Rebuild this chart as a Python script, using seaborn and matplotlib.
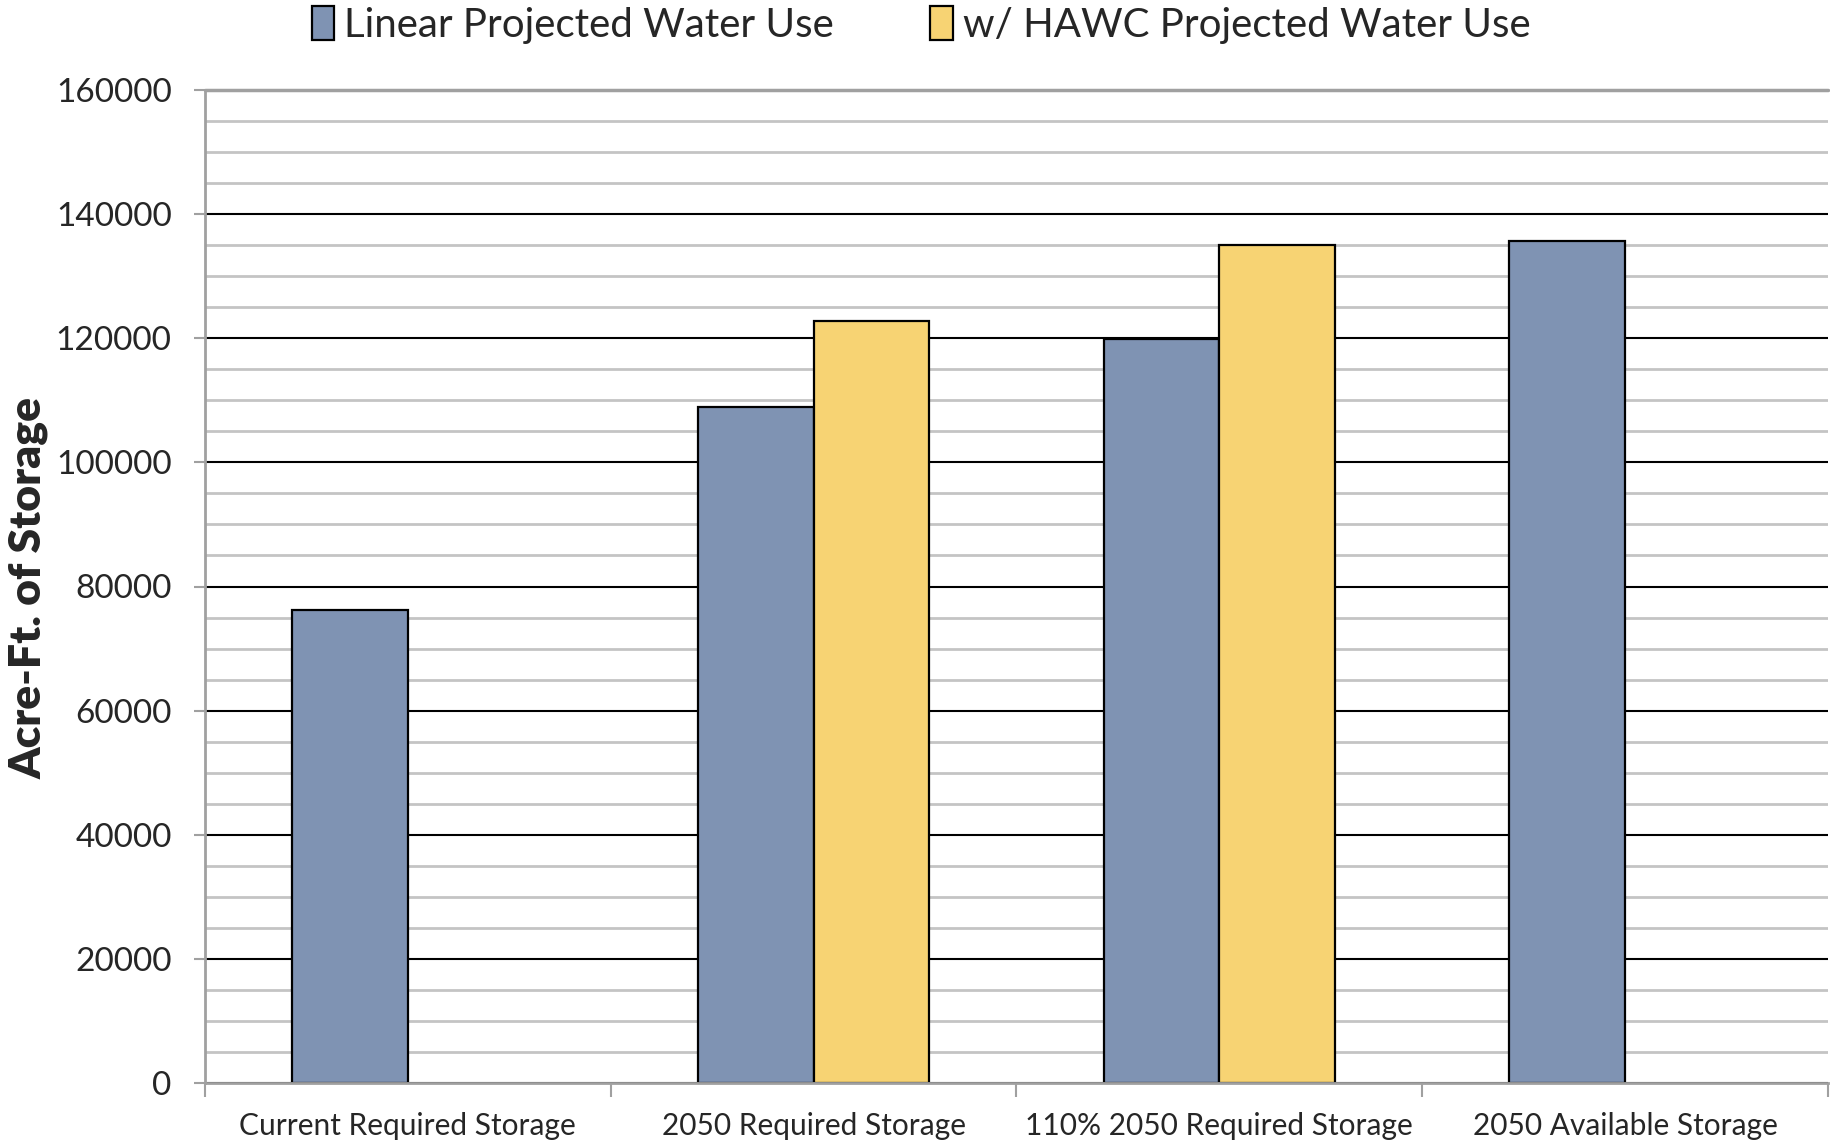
import matplotlib
matplotlib.use("Agg")
import matplotlib.pyplot as plt
import seaborn as sns
import pandas as pd
import numpy as np
from matplotlib.ticker import MultipleLocator
from matplotlib.patches import Patch

categories = ["Current Required Storage", "2050 Required Storage",
              "110% 2050 Required Storage", "2050 Available Storage"]
series_names = ["Linear Projected Water Use", "w/ HAWC Projected Water Use"]
linear_values = [76200, 109000, 119900, 135600]
hawc_values = [np.nan, 122700, 135000, np.nan]
y_ticks = [0, 20000, 40000, 60000, 80000, 100000, 120000, 140000, 160000]

colors = ["#7F93B3", "#F7D373"]

df = pd.DataFrame({
    "category": categories * 2,
    "series": [series_names[0]] * 4 + [series_names[1]] * 4,
    "value": linear_values + hawc_values,
})

sns.set_theme(style="white")
plt.rcParams["font.family"] = ["Lato", "DejaVu Sans"]

fig = plt.figure(figsize=(18.31, 11.42), dpi=100)
ax = fig.add_axes([205 / 1831, 1 - 1083 / 1142, (1828 - 205) / 1831, (1083 - 90) / 1142])

sns.barplot(data=df, x="category", y="value", hue="series", order=categories,
            hue_order=series_names, palette=colors, width=0.57, saturation=1,
            edgecolor="black", linewidth=1.6, ax=ax, legend=False, zorder=3)

ax.set_xlim(-0.5, 3.5)
ax.set_ylim(0, 160000)
ax.set_yticks(y_ticks)
ax.set_yticklabels([str(t) for t in y_ticks])
ax.yaxis.set_minor_locator(MultipleLocator(5000))
ax.grid(axis="y", which="minor", color="#C4C4C4", linewidth=2, zorder=0)
ax.grid(axis="y", which="major", color="black", linewidth=1.5, zorder=1)
ax.set_axisbelow(True)

ax.axhline(160000, color="#A0A0A0", linewidth=2.5, zorder=2, clip_on=False)

for s in ["top", "right"]:
    ax.spines[s].set_visible(False)
for s in ["left", "bottom"]:
    ax.spines[s].set_color("#A0A0A0")
    ax.spines[s].set_linewidth(2)
    ax.spines[s].set_zorder(4)

ax.tick_params(axis="y", which="major", direction="out", length=8, width=1.5,
               color="#A0A0A0", pad=16, labelsize=24, left=True)
ax.tick_params(axis="y", which="minor", length=0)
ax.set_xticks(range(4))
ax.set_xticklabels(categories)
ax.set_xticks([-0.5, 0.5, 1.5, 2.5, 3.5], minor=True)
ax.tick_params(axis="x", which="major", length=0, pad=21, labelsize=21.5)
ax.tick_params(axis="x", which="minor", direction="out", length=10, width=1.5,
               color="#A0A0A0", bottom=True)

ax.set_xlabel("")
ax.set_ylabel("")
fig.text(29 / 1831, 1 - 588 / 1142, "Acre-Ft. of Storage", rotation=90,
         ha="center", va="center", fontsize=32, fontweight="heavy")

handles = [Patch(facecolor=c, edgecolor="black", linewidth=1.6) for c in colors]
fig.legend(handles, series_names, loc="center", bbox_to_anchor=(0.503, 0.978),
           ncol=2, frameon=False, fontsize=29, handlelength=0.55, handleheight=0.9,
           handletextpad=0.25, columnspacing=2.4, borderpad=0.1)

fig.savefig("out.png", dpi=100)
